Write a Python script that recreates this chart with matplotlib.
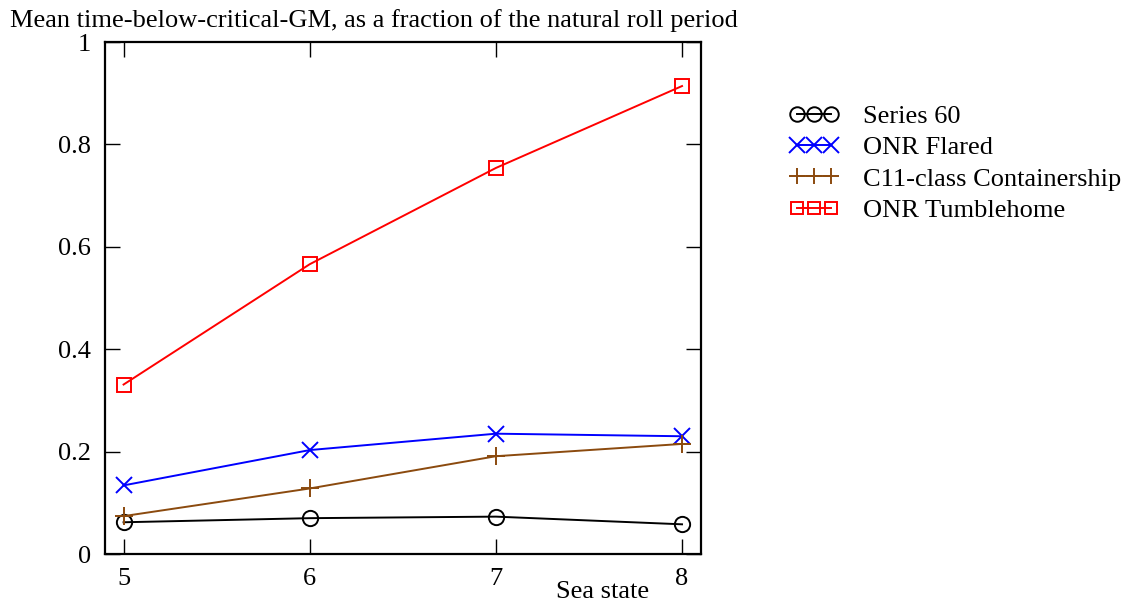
import matplotlib.pyplot as plt

plt.rcParams['font.family'] = ['Liberation Serif', 'DejaVu Serif']

# Sea states and mean time below critical GM (fraction of roll period)
sea_state = [5, 6, 7, 8]
series60 = [0.062, 0.070, 0.073, 0.058]
onr_flared = [0.134, 0.203, 0.235, 0.230]
c11 = [0.074, 0.128, 0.191, 0.215]
onr_tumble = [0.331, 0.566, 0.754, 0.914]

labels = ['Series 60', 'ONR Flared', 'C11-class Containership', 'ONR Tumblehome']

fig = plt.figure(figsize=(11.31, 6.07), dpi=100)
ax = fig.add_axes([0.0928, 0.0873, 0.5267, 0.8435])

ax.plot(sea_state, series60, color='black', lw=1.4, marker='o', ms=11,
        mfc='none', mew=1.4, label=labels[0])
ax.plot(sea_state, onr_flared, color='#0000ff', lw=1.4, marker='x', ms=11.5,
        mew=1.4, label=labels[1])
ax.plot(sea_state, c11, color='#8b4a0e', lw=1.4, marker='+', ms=12.5,
        mew=1.4, label=labels[2])
ax.plot(sea_state, onr_tumble, color='#ff0000', lw=1.4, marker='s', ms=9.5,
        mfc='none', mew=1.4, label=labels[3])

ax.set_xlim(4.9, 8.1)
ax.set_ylim(0, 1)
ax.set_xticks(sea_state)
ax.set_yticks([0, 0.2, 0.4, 0.6, 0.8, 1])
ax.set_yticklabels(['0', '0.2', '0.4', '0.6', '0.8', '1'])
ax.tick_params(direction='in', length=11, width=1, top=True, right=True,
               labelsize=19, pad=10)
for s in ax.spines.values():
    s.set_linewidth(1.6)

fig.text(0.009, 0.966, 'Mean time-below-critical-GM, as a fraction of the natural roll period',
         fontsize=19, ha='left', va='center')
fig.text(0.533, 0.025, 'Sea state', fontsize=19, ha='center', va='center')

ax.legend(loc='upper left', bbox_to_anchor=(1.13, 0.899), frameon=False,
          fontsize=19, numpoints=3, handlelength=1.9, markerscale=0.95,
          labelspacing=0.3, handletextpad=0.9, borderaxespad=0)

fig.savefig('out.png', dpi=100)
